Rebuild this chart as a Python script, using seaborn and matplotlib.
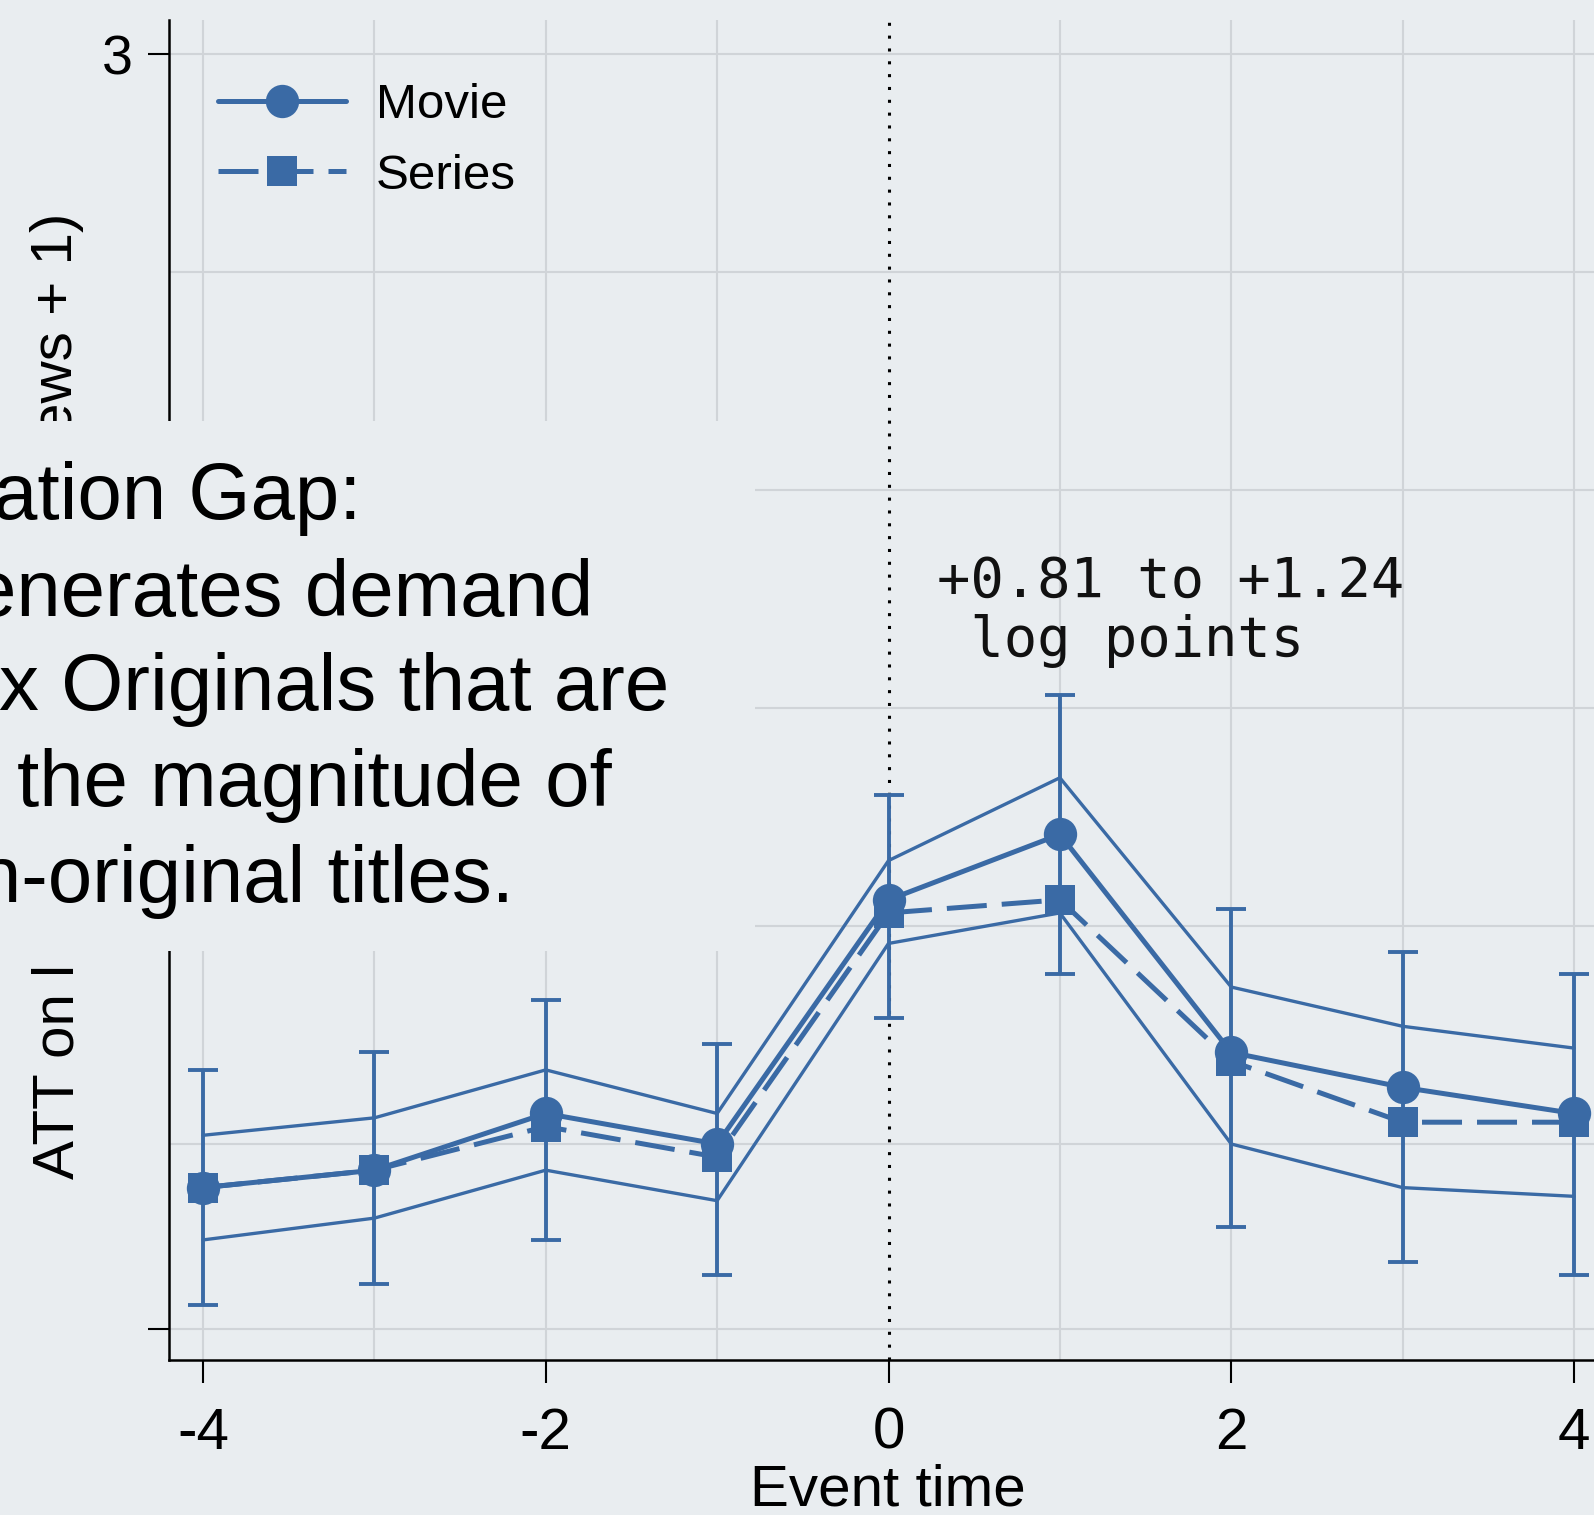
import numpy as np
import pandas as pd
import matplotlib
matplotlib.use("Agg")
import matplotlib.pyplot as plt
from matplotlib.patches import Rectangle
import seaborn as sns

# ---------------- data ----------------
event_time = [-4, -3, -2, -1, 0, 1, 2, 3, 4]
movie_att = [0.40, 0.44, 0.57, 0.50, 1.06, 1.21, 0.71, 0.63, 0.57]
series_att = [0.40, 0.44, 0.54, 0.47, 1.03, 1.06, 0.69, 0.55, 0.55]
band_upper = [0.52, 0.56, 0.67, 0.57, 1.15, 1.34, 0.86, 0.77, 0.72]
band_lower = [0.28, 0.33, 0.44, 0.37, 0.96, 1.03, 0.50, 0.40, 0.38]
ci_upper = [0.67, 0.71, 0.83, 0.73, 1.30, 1.53, 1.04, 0.94, 0.89]
ci_lower = [0.13, 0.18, 0.28, 0.20, 0.79, 0.89, 0.31, 0.23, 0.20]

x_ticks = [-4, -2, 0, 2, 4]
x_tick_labels = ["-4", "-2", "0", "2", "4"]
y_tick_values = [0.076, 3]
y_tick_labels = ["", "3"]
y_grid_values = [0.076, 0.5, 1.0, 1.5, 2.0, 2.5, 3.0]
x_grid_values = [-4, -3, -2, -1, 1, 2, 3, 4]
legend_labels = ["Movie", "Series"]
x_label = "Event time"
y_label_bottom = "ATT on l"
y_label_top = "ews + 1)"
annotation_lines = ["+0.81 to +1.24", " log points"]
box_lines = ["ation Gap:", "enerates demand", "x Originals that are",
             "the magnitude of", "n-original titles."]

# ---------------- style ----------------
W, H, DPI = 1594, 1515, 100
BG = "#e9edf0"
BLUE = "#3a6aa5"
GRID = "#d0d4d8"

sns.set_theme(style="white")
plt.rcParams["font.family"] = ["Liberation Sans", "DejaVu Sans"]
plt.rcParams["text.color"] = "black"
plt.rcParams["axes.labelcolor"] = "black"

fig = plt.figure(figsize=(W / DPI, H / DPI), dpi=DPI, facecolor=BG)
ax = fig.add_axes([169 / W, 1 - 1360 / H, (W - 169) / W, 1340 / H])
ax.set_facecolor(BG)

df = pd.DataFrame({
    "t": event_time,
    "movie": movie_att,
    "series": series_att,
    "band_hi": band_upper,
    "band_lo": band_lower,
    "ci_hi": ci_upper,
    "ci_lo": ci_lower,
})

# grid
for yv in y_grid_values:
    ax.axhline(yv, color=GRID, lw=1.5, zorder=0)
for xv in x_grid_values:
    ax.axvline(xv, color=GRID, lw=1.5, zorder=0)
ax.axvline(0, color="black", lw=2.2, linestyle=(0, (1, 3.2)), zorder=1)

# thin band lines
sns.lineplot(data=df, x="t", y="band_hi", color=BLUE, linewidth=2.4,
             errorbar=None, ax=ax, zorder=2, legend=False)
sns.lineplot(data=df, x="t", y="band_lo", color=BLUE, linewidth=2.4,
             errorbar=None, ax=ax, zorder=2, legend=False)

# capped error bars
ci_mid = (df["ci_hi"] + df["ci_lo"]) / 2
ax.errorbar(df["t"], ci_mid, yerr=[ci_mid - df["ci_lo"], df["ci_hi"] - ci_mid],
            fmt="none", ecolor=BLUE, elinewidth=2.8, capsize=11, capthick=2.8,
            zorder=2)

# series (dashed, squares)
sns.lineplot(data=df, x="t", y="series", color=BLUE, linewidth=3.6,
             marker="s", markersize=21, markeredgewidth=0,
             errorbar=None, ax=ax, zorder=3, legend=False)
series_line = ax.lines[-1]
series_line.set_dashes([8, 3])

# movie (solid, circles)
sns.lineplot(data=df, x="t", y="movie", color=BLUE, linewidth=3.6,
             marker="o", markersize=24, markeredgewidth=0,
             errorbar=None, ax=ax, zorder=4, legend=False)
movie_line = ax.lines[-1]

leg = ax.legend(handles=[movie_line, series_line], labels=legend_labels,
                loc="upper left", bbox_to_anchor=(0.0344, 0.953),
                borderaxespad=0, borderpad=0, frameon=False, fontsize=35.5,
                handlelength=2.6, handletextpad=0.6, labelspacing=0.52)
for t in leg.get_texts():
    t.set_color("black")

# axes
ax.set_xlim(-4.1984, 4.1167)
ax.set_ylim(0.0046, 3.078)
ax.set_xticks(x_ticks, x_tick_labels)
ax.set_yticks(y_tick_values, y_tick_labels)
ax.tick_params(axis="x", bottom=True, direction="out", length=16.5, width=1.5,
               pad=17, labelsize=42, colors="black")
ax.tick_params(axis="y", left=True, direction="out", length=15, width=1.5,
               pad=11, labelsize=40, colors="black")
for s in ["top", "right"]:
    ax.spines[s].set_visible(False)
for s in ["left", "bottom"]:
    ax.spines[s].set_color("black")
    ax.spines[s].set_linewidth(1.8)
ax.grid(False)

ax.set_xlabel(x_label, fontsize=42, color="black")
ax.xaxis.set_label_coords(0.5046, -0.0775)
ax.set_ylabel("")

# annotation
ax.text(0.283, 1.755, annotation_lines[0], family="DejaVu Sans Mono",
        fontsize=40, ha="left", va="baseline", color="#111111", zorder=6)
ax.text(0.283, 1.619, annotation_lines[1], family="DejaVu Sans Mono",
        fontsize=40, ha="left", va="baseline", color="#111111", zorder=6)

# y label (partly hidden by the overlay box)
fig.text(72 / W, 1 - 213 / H, y_label_top, rotation=90, rotation_mode="anchor",
         ha="right", va="baseline", fontsize=42, color="black", zorder=1)
fig.text(73 / W, 1 - 1179 / H, y_label_bottom, rotation=90, rotation_mode="anchor",
         ha="left", va="baseline", fontsize=42, color="black", zorder=1)

# overlay text box
rect = Rectangle((0, 1 - 951 / H), 755 / W, (951 - 421) / H,
                 transform=fig.transFigure, facecolor=BG, edgecolor="none",
                 zorder=5)
fig.add_artist(rect)
box_right = [361, 593, 669, 612, 514]
box_base = [519, 616, 710, 806, 902]
for s, r, b in zip(box_lines, box_right, box_base):
    fig.text(r / W, 1 - b / H, s, ha="right", va="baseline", fontsize=57.5,
             color="black", zorder=6)

fig.savefig("out.png", dpi=DPI, facecolor=BG)
